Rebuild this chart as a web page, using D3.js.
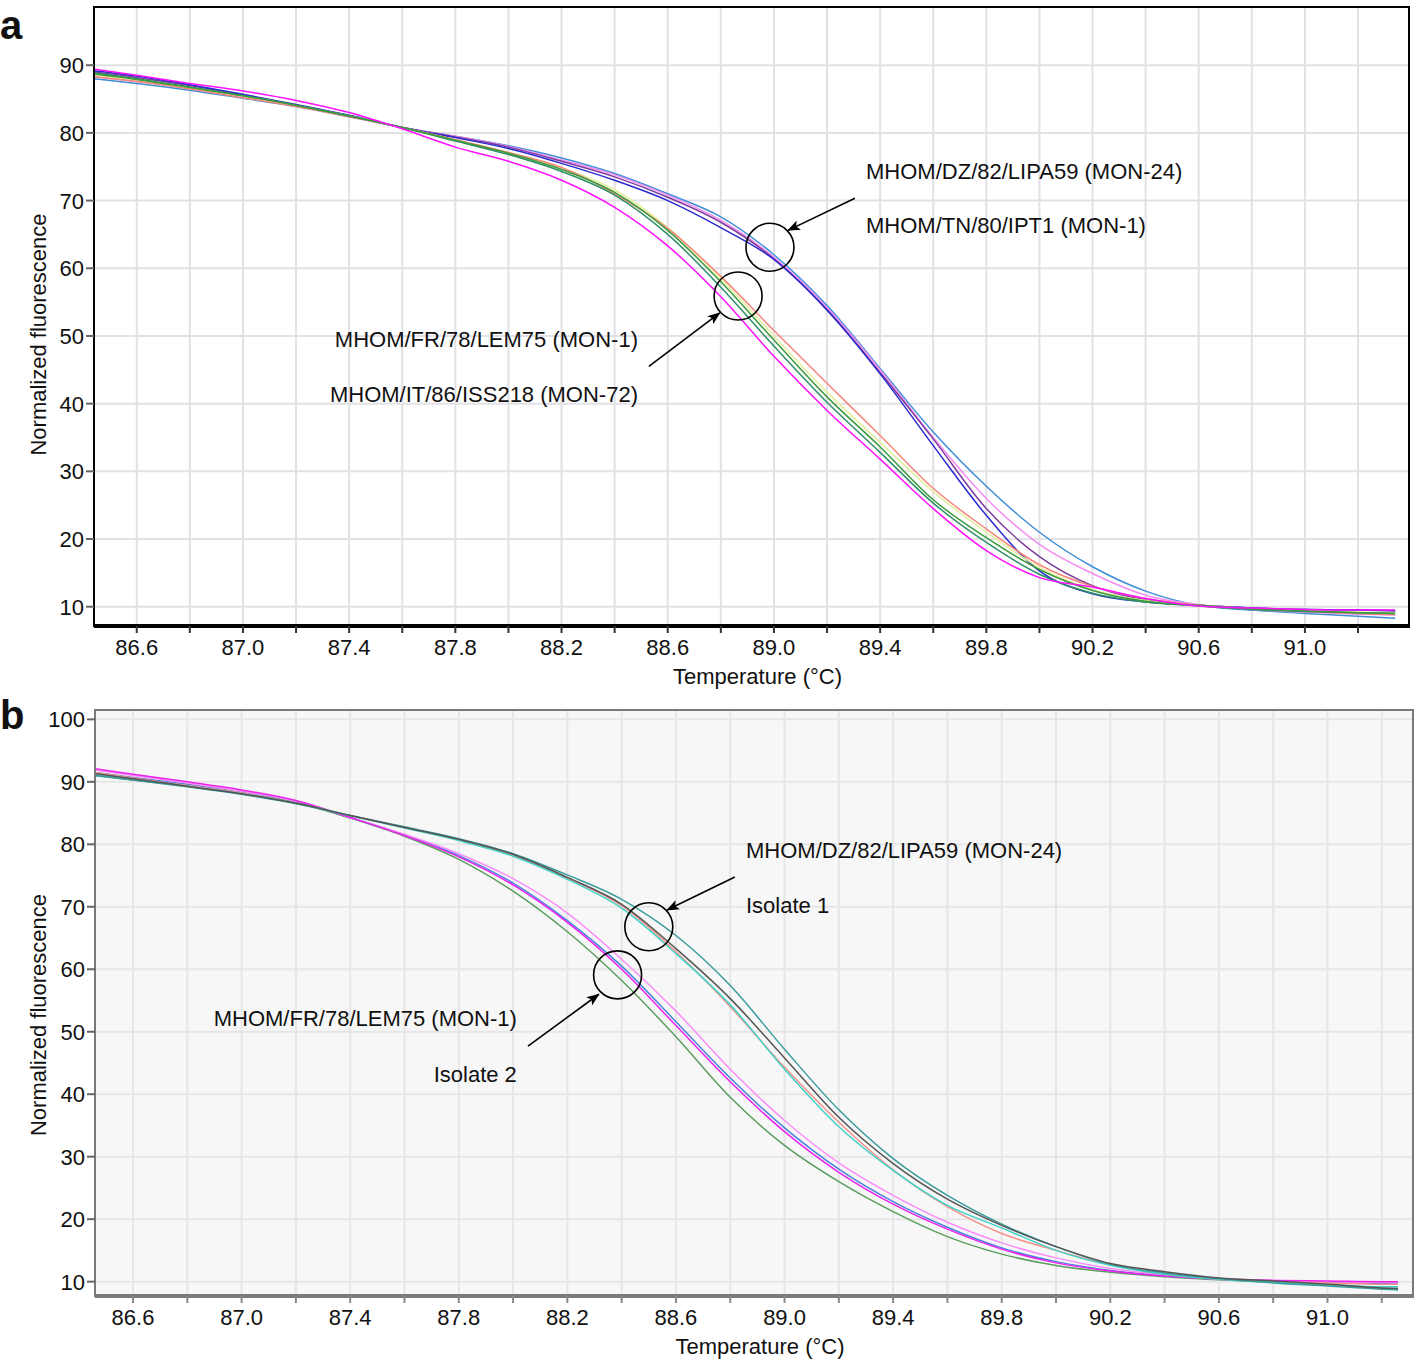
<!DOCTYPE html>
<html><head><meta charset="utf-8">
<script src="https://cdn.jsdelivr.net/npm/d3@7"></script>
<style>
body{margin:0;background:#fff}
svg{display:block}
text{font-family:"Liberation Sans",Arial,Helvetica,sans-serif;fill:#111}
</style></head>
<body><svg id="chart" width="1418" height="1362"></svg>
<script>
// ---------------- DATA ----------------
const xTickLabels = ["86.6","87.0","87.4","87.8","88.2","88.6","89.0","89.4","89.8","90.2","90.6","91.0"];
const xMinorTicks = [86.6,86.8,87.0,87.2,87.4,87.6,87.8,88.0,88.2,88.4,88.6,88.8,89.0,89.2,89.4,89.6,89.8,90.0,90.2,90.4,90.6,90.8,91.0,91.2];
const yTicksA = [10,20,30,40,50,60,70,80,90];
const yTicksB = [10,20,30,40,50,60,70,80,90,100];

// Panel a temperatures (°C)
const tempA = [86.44,86.6,86.8,87.0,87.2,87.4,87.6,87.8,88.0,88.2,88.4,88.6,88.8,89.0,89.2,89.4,89.6,89.8,90.0,90.2,90.4,90.6,90.8,91.0,91.2,91.34];
const aLightBlue = [88.0,87.3,86.3,85.1,83.9,82.4,80.8,79.5,78.1,76.3,74.0,71.0,67.6,62.0,54.5,45.2,35.8,27.8,21.0,15.9,12.3,10.2,9.5,9.0,8.6,8.3];
const aPink      = [88.3,87.6,86.6,85.4,84.0,82.5,80.8,79.5,78.0,76.0,73.8,70.8,67.1,61.6,54.2,45.0,35.0,26.0,19.2,14.9,11.7,10.3,9.6,9.2,8.9,8.8];
const aPurple    = [89.0,88.2,87.0,85.6,84.1,82.5,80.8,79.4,77.9,75.8,73.5,70.5,66.8,61.4,53.9,44.6,34.8,24.5,17.4,13.1,11.0,10.2,9.8,9.6,9.5,9.4];
const aDarkBlue  = [89.2,88.4,87.1,85.7,84.2,82.6,80.8,79.3,77.7,75.5,73.0,70.0,66.0,61.3,53.8,44.4,33.8,23.5,15.3,11.9,10.7,10.2,9.8,9.6,9.5,9.4];
const aYellow    = [88.5,87.8,86.6,85.4,84.0,82.5,80.8,79.0,77.1,74.8,71.6,66.0,58.5,50.0,41.7,34.3,27.0,21.0,15.8,12.5,10.9,10.2,9.7,9.4,9.2,9.1];
const aSalmon    = [88.3,87.6,86.5,85.2,83.9,82.4,80.8,79.0,77.1,74.9,71.0,65.9,58.8,50.8,43.0,35.3,27.5,21.5,16.2,13.0,11.2,10.2,9.7,9.3,9.0,8.8];
const aGreen2    = [88.9,88.0,86.8,85.5,84.1,82.5,80.8,78.8,76.8,74.3,70.8,65.0,57.2,48.5,40.2,32.8,25.3,19.5,14.8,12.0,10.7,10.1,9.6,9.3,9.1,9.0];
const aGreen     = [88.7,87.9,86.7,85.5,84.1,82.5,80.8,78.9,77.0,74.6,71.2,65.6,58.0,49.4,41.0,33.6,25.8,20.2,15.5,12.4,10.8,10.2,9.7,9.4,9.1,9.0];
const aMagenta   = [89.4,88.5,87.3,86.2,84.8,83.0,80.6,77.9,75.8,73.0,69.0,63.3,55.8,47.0,39.0,31.8,24.5,18.3,14.3,12.9,11.2,10.1,9.8,9.6,9.5,9.5];

// Panel b temperatures (°C)
const tempB = [86.46,86.6,86.8,87.0,87.2,87.4,87.6,87.8,88.0,88.2,88.4,88.6,88.8,89.0,89.2,89.4,89.6,89.8,90.0,90.2,90.4,90.6,90.8,91.0,91.2,91.26];
const bGreen     = [91.0,90.3,89.3,88.2,86.7,84.2,81.3,77.6,72.5,66.0,58.2,49.2,39.5,31.8,26.0,21.2,17.2,14.4,12.6,11.5,10.8,10.3,9.9,9.5,8.9,8.7];
const bBlue      = [91.5,90.7,89.6,88.4,86.9,84.3,81.5,78.2,73.8,67.8,60.5,51.6,42.6,34.6,28.0,22.8,18.7,15.4,13.2,11.8,10.9,10.4,10.1,9.9,9.7,9.6];
const bMagenta   = [92.1,91.2,90.0,88.7,87.0,84.3,81.4,78.0,73.5,67.5,60.0,51.0,42.0,34.0,27.5,22.4,18.4,15.2,13.0,11.7,10.9,10.4,10.2,10.1,10.0,10.0];
const bPink      = [91.9,91.0,89.8,88.5,86.9,84.3,81.6,78.5,74.5,69.0,61.6,53.3,44.0,35.8,29.0,23.8,19.5,16.2,13.8,12.1,11.1,10.5,10.2,10.0,9.9,9.9];
const bSalmon    = [91.5,90.6,89.4,88.2,86.6,84.6,82.7,80.7,78.2,74.6,70.2,62.8,54.0,44.3,35.5,27.9,22.0,17.7,15.0,12.7,11.2,10.4,10.0,9.8,9.6,9.6];
const bCyan      = [91.1,90.4,89.3,88.1,86.6,84.6,82.6,80.6,78.1,74.4,69.8,62.5,54.3,44.0,34.8,27.8,22.2,18.6,15.0,12.6,11.2,10.4,9.9,9.5,9.2,9.2];
const bTeal      = [91.0,90.3,89.2,88.0,86.5,84.6,82.8,80.9,78.5,75.1,71.2,65.4,57.4,47.2,37.5,29.7,23.8,19.2,15.6,12.8,11.4,10.5,9.8,9.3,8.8,8.7];
const bDarkGray  = [91.3,90.5,89.3,88.1,86.6,84.6,82.7,80.8,78.4,74.7,70.4,63.3,55.3,45.8,36.3,28.9,23.2,19.0,15.6,12.9,11.6,10.6,10.1,9.6,9.0,8.9];

// Annotations (data units)
const annotLabelsA = ["MHOM/DZ/82/LIPA59 (MON-24)","MHOM/TN/80/IPT1 (MON-1)","MHOM/FR/78/LEM75 (MON-1)","MHOM/IT/86/ISS218 (MON-72)"];
const annotLabelsB = ["MHOM/DZ/82/LIPA59 (MON-24)","Isolate 1","MHOM/FR/78/LEM75 (MON-1)","Isolate 2"];

// ---------------- STYLE / LAYOUT ----------------
const svg = d3.select("#chart");
const FONT = 22;

const colorsA = {lightBlue:"#3d8fd8", pink:"#f58cf2", purple:"#7d3c9c", darkBlue:"#2a2ad0",
  yellow:"#e4ee9c", salmon:"#f7857a", green2:"#2f8f66", green:"#3b9a3b", magenta:"#ff10ff"};
const colorsB = {green:"#5a9e5e", blue:"#4a82dc", magenta:"#ee22ee", pink:"#fb8cf8",
  salmon:"#f4928a", cyan:"#3fd2c6", teal:"#3b9c9c", darkGray:"#555555"};

const seriesA = [
  ["lightBlue",aLightBlue],["pink",aPink],["purple",aPurple],["darkBlue",aDarkBlue],
  ["yellow",aYellow],["salmon",aSalmon],["green2",aGreen2],["green",aGreen],["magenta",aMagenta]
];
const seriesB = [
  ["green",bGreen],["blue",bBlue],["pink",bPink],["magenta",bMagenta],
  ["salmon",bSalmon],["cyan",bCyan],["teal",bTeal],["darkGray",bDarkGray]
];

const defs = svg.append("defs");
defs.append("marker").attr("id","arr").attr("markerUnits","userSpaceOnUse")
  .attr("markerWidth",14).attr("markerHeight",10).attr("refX",12).attr("refY",5)
  .attr("orient","auto")
  .append("path").attr("d","M0,0 L13,5 L0,10 L3,5 Z").attr("fill","#000");

function panel(cfg){
  const g = svg.append("g");
  const x = d3.scaleLinear().domain(cfg.xDomain).range([cfg.left, cfg.right]);
  const y = d3.scaleLinear().domain(cfg.yDomain).range([cfg.bottom, cfg.top]);

  g.append("rect").attr("x",cfg.left).attr("y",cfg.top)
    .attr("width",cfg.right-cfg.left).attr("height",cfg.bottom-cfg.top)
    .attr("fill",cfg.bg);

  g.append("g").selectAll("line").data(xMinorTicks).join("line")
    .attr("x1",d=>x(d)).attr("x2",d=>x(d)).attr("y1",cfg.top).attr("y2",cfg.bottom)
    .attr("stroke",cfg.grid).attr("stroke-width",2);
  g.append("g").selectAll("line").data(cfg.yTicks).join("line")
    .attr("x1",cfg.left).attr("x2",cfg.right).attr("y1",d=>y(d)).attr("y2",d=>y(d))
    .attr("stroke",cfg.grid).attr("stroke-width",2);

  const line = d3.line().x((d,i)=>x(cfg.temps[i])).y(d=>y(d)).curve(d3.curveMonotoneX);
  g.append("g").selectAll("path").data(cfg.series).join("path")
    .attr("d",d=>line(d[1])).attr("fill","none")
    .attr("stroke",d=>cfg.colors[d[0]]).attr("stroke-width",1.5);

  g.append("rect").attr("x",cfg.left).attr("y",cfg.top)
    .attr("width",cfg.right-cfg.left).attr("height",cfg.bottom-cfg.top)
    .attr("fill","none").attr("stroke",cfg.frame).attr("stroke-width",2);
  g.append("line").attr("x1",cfg.left).attr("x2",cfg.right+1)
    .attr("y1",cfg.bottom).attr("y2",cfg.bottom)
    .attr("stroke",cfg.frame).attr("stroke-width",cfg.bottomW);

  const ya = g.append("g").selectAll("g").data(cfg.yTicks).join("g");
  ya.append("line").attr("x1",cfg.left-8).attr("x2",cfg.left).attr("y1",d=>y(d)).attr("y2",d=>y(d))
    .attr("stroke","#666").attr("stroke-width",2);
  ya.append("text").attr("x",cfg.left-10).attr("y",d=>y(d)).attr("dy","0.36em")
    .attr("text-anchor","end").attr("font-size",FONT).text(d=>d);

  g.append("g").selectAll("line").data(xMinorTicks).join("line")
    .attr("x1",d=>x(d)).attr("x2",d=>x(d)).attr("y1",cfg.bottom).attr("y2",cfg.bottom+7)
    .attr("stroke",cfg.tickColor).attr("stroke-width",2);
  g.append("g").selectAll("text").data(xTickLabels).join("text")
    .attr("x",d=>x(+d)).attr("y",cfg.bottom+29).attr("text-anchor","middle")
    .attr("font-size",FONT).text(d=>d);

  g.append("text").attr("x",(cfg.left+cfg.right)/2 + 6).attr("y",cfg.bottom+58)
    .attr("text-anchor","middle").attr("font-size",FONT).text("Temperature (°C)");
  g.append("text").attr("transform",`translate(46,${(cfg.top+cfg.bottom)/2 + cfg.yTitleShift}) rotate(-90)`)
    .attr("text-anchor","middle").attr("font-size",FONT).text("Normalized fluorescence");

  g.append("text").attr("x",0).attr("y",cfg.letterY).attr("font-size",40)
    .attr("font-weight","bold").text(cfg.letter);

  const an = cfg.annot;
  an.circles.forEach(c=>{
    g.append("circle").attr("cx",x(c[0])).attr("cy",y(c[1])).attr("r",24)
      .attr("fill","none").attr("stroke","#000").attr("stroke-width",1.6);
  });
  an.arrows.forEach(a=>{
    g.append("line").attr("x1",x(a[0])).attr("y1",y(a[1])).attr("x2",x(a[2])).attr("y2",y(a[3]))
      .attr("stroke","#000").attr("stroke-width",1.6).attr("marker-end","url(#arr)");
  });
  an.texts.forEach(t=>{
    g.append("text").attr("x",x(t.t)).attr("y",y(t.v)).attr("text-anchor",t.anchor)
      .attr("font-size",FONT).text(t.label);
  });
}

panel({
  letter:"a", letterY:39,
  left:94, right:1409, top:7, bottom:626,
  xDomain:[86.439,91.392], yDomain:[7.15,98.6],
  yTicks:yTicksA, temps:tempA, series:seriesA, colors:colorsA,
  bg:"#ffffff", grid:"#e2e2e6", frame:"#000", bottomW:4, tickColor:"#333",
  yTitleShift:18,
  annot:{
    circles:[[88.985,63.1],[88.865,55.9]],
    arrows:[[89.305,70.35,89.053,65.6],[88.529,45.5,88.796,53.4]],
    texts:[
      {t:89.347,v:73.2,anchor:"start",label:annotLabelsA[0]},
      {t:89.347,v:65.2,anchor:"start",label:annotLabelsA[1]},
      {t:88.488,v:48.4,anchor:"end",label:annotLabelsA[2]},
      {t:88.488,v:40.3,anchor:"end",label:annotLabelsA[3]}
    ]
  }
});

panel({
  letter:"b", letterY:729,
  left:95, right:1413, top:710, bottom:1296,
  xDomain:[86.46,91.315], yDomain:[7.7,101.5],
  yTicks:yTicksB, temps:tempB, series:seriesB, colors:colorsB,
  bg:"#f7f7f7", grid:"#e6e6e6", frame:"#7a7a7a", bottomW:4, tickColor:"#888",
  yTitleShift:12,
  annot:{
    circles:[[88.50,66.8],[88.385,59.1]],
    arrows:[[88.817,74.76,88.567,69.48],[88.055,47.7,88.316,56.0]],
    texts:[
      {t:88.858,v:77.8,anchor:"start",label:annotLabelsB[0]},
      {t:88.858,v:69.0,anchor:"start",label:annotLabelsB[1]},
      {t:88.014,v:50.9,anchor:"end",label:annotLabelsB[2]},
      {t:88.014,v:42.0,anchor:"end",label:annotLabelsB[3]}
    ]
  }
});
</script></body></html>
